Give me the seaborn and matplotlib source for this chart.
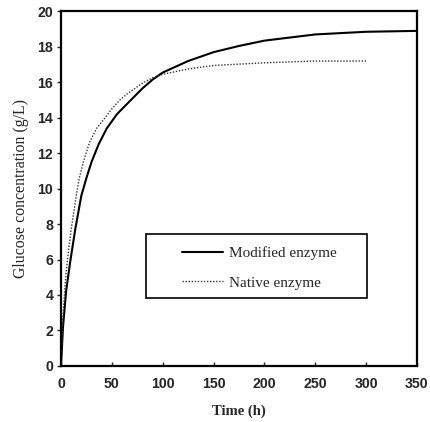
import matplotlib
matplotlib.use("Agg")
import matplotlib.pyplot as plt
from matplotlib.patches import Rectangle
import seaborn as sns
import pandas as pd

# Data
time_modified = [0, 2, 5, 9, 14, 20, 25, 30, 37, 45, 55, 67, 80, 90, 100, 125, 150, 175, 200, 250, 300, 350]
glucose_modified = [0, 2.2, 4.2, 5.85, 7.7, 9.6, 10.6, 11.5, 12.5, 13.4, 14.2, 14.9, 15.65, 16.15, 16.55, 17.2, 17.7, 18.05, 18.35, 18.7, 18.85, 18.9]
time_native = [0, 2, 4, 6, 10, 15, 18, 22, 28, 35, 42, 50, 57, 64, 80, 90, 100, 125, 150, 200, 250, 300]
glucose_native = [0, 2.8, 4.6, 5.8, 7.7, 9.6, 10.6, 11.5, 12.6, 13.4, 13.9, 14.5, 14.95, 15.3, 15.95, 16.25, 16.45, 16.75, 16.95, 17.1, 17.2, 17.2]
x_ticks = [0, 50, 100, 150, 200, 250, 300, 350]
y_ticks = [0, 2, 4, 6, 8, 10, 12, 14, 16, 18, 20]

sns.set_style("ticks")
plt.rcParams['font.family'] = ['Liberation Sans', 'DejaVu Sans']

df_mod = pd.DataFrame({"t": time_modified, "g": glucose_modified})
df_nat = pd.DataFrame({"t": time_native, "g": glucose_native})

fig = plt.figure(figsize=(4.31, 4.22), dpi=100)
ax = fig.add_axes([0.1415, 0.133, 0.826, 0.84])

sns.lineplot(data=df_mod, x="t", y="g", ax=ax, color="black", linewidth=1.5,
             label="Modified enzyme")
sns.lineplot(data=df_nat, x="t", y="g", ax=ax, color="#333333", linewidth=1.0,
             linestyle=(0, (1, 1.2)), label="Native enzyme")

ax.set_xlim(0, 350)
ax.set_ylim(0, 20)
ax.set_xticks(x_ticks)
ax.set_yticks(y_ticks)
for lab in ax.get_xticklabels() + ax.get_yticklabels():
    lab.set_fontweight("bold")
    lab.set_fontsize(10.2)
ax.tick_params(axis="x", direction="in", length=3, width=1, pad=8)
ax.tick_params(axis="y", direction="out", length=3, width=1, pad=2.5)
for s in ax.spines.values():
    s.set_visible(True)
    s.set_linewidth(1.6)
    s.set_color("black")

ax.set_xlabel("Time (h)", fontfamily="Liberation Serif", fontweight="bold", fontsize=10.5, labelpad=10)
ax.set_ylabel("Glucose concentration (g/L)", fontfamily="Liberation Serif", fontsize=11.4, labelpad=6)

# legend box
ax.add_patch(Rectangle((0.24, 0.192), 0.62, 0.18, transform=ax.transAxes,
                       facecolor="white", edgecolor="black", linewidth=1.2, zorder=5))
leg = ax.legend(loc="center left", bbox_to_anchor=(0.34, 0.2765), frameon=False,
                prop={"family": "Liberation Serif", "size": 11},
                handlelength=2.7, borderpad=0, labelspacing=1.05, handletextpad=0.4,
                borderaxespad=0)
leg.set_zorder(6)

fig.savefig("out.png", dpi=100)
